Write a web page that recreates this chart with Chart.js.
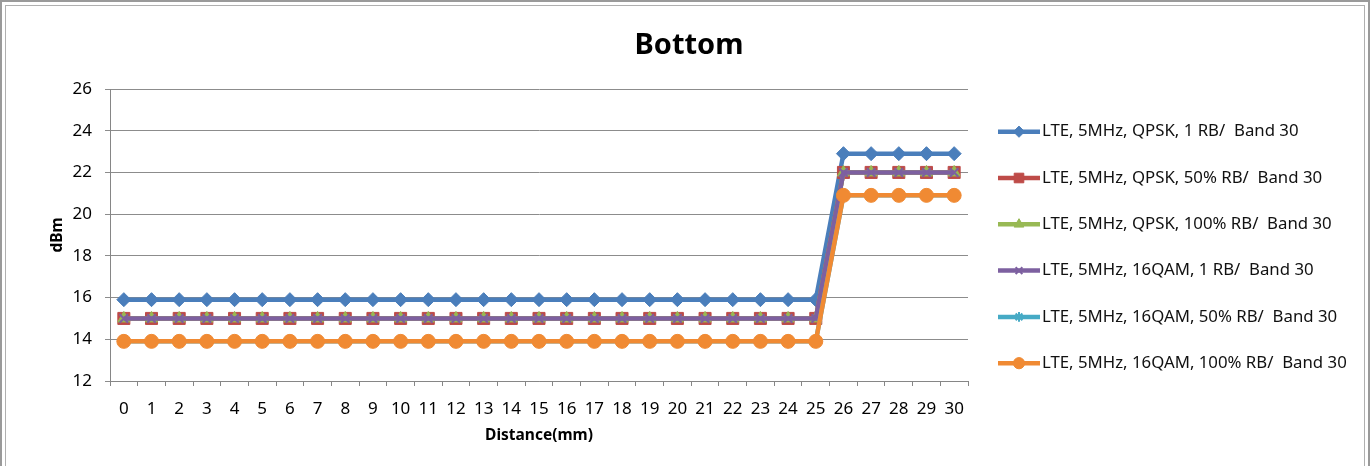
<!DOCTYPE html>
<html>
<head>
<meta charset="utf-8">
<script src="https://cdn.jsdelivr.net/npm/chart.js@4/dist/chart.umd.min.js"></script>
<style>
  html, body { margin: 0; padding: 0; background: #fff; }
  #wrap { position: relative; width: 1372px; height: 466px; overflow: hidden; }
  canvas { position: absolute; left: 0; top: 0; }
  .f1 { position: absolute; left: 0; top: 0; width: 1366px; height: 480px; border: 2px solid #9a9a9a; border-bottom: none; pointer-events: none; }
  .f2 { position: absolute; left: 5px; top: 5px; width: 1358px; height: 480px; border: 1px solid #b0b0b0; border-bottom: none; pointer-events: none; }
</style>
</head>
<body>
<div id="wrap">
  <canvas id="c" width="1372" height="466"></canvas>
  <div class="f1"></div>
  <div class="f2"></div>
</div>
<script>
// ---- data ----
const chartTitle = 'Bottom';
const categories = ['0','1','2','3','4','5','6','7','8','9','10','11','12','13','14','15','16','17','18','19','20','21','22','23','24','25','26','27','28','29','30'];
const seriesNames = [
  'LTE, 5MHz, QPSK, 1 RB/  Band 30',
  'LTE, 5MHz, QPSK, 50% RB/  Band 30',
  'LTE, 5MHz, QPSK, 100% RB/  Band 30',
  'LTE, 5MHz, 16QAM, 1 RB/  Band 30',
  'LTE, 5MHz, 16QAM, 50% RB/  Band 30',
  'LTE, 5MHz, 16QAM, 100% RB/  Band 30'
];
const qpsk1RB    = [15.9,15.9,15.9,15.9,15.9,15.9,15.9,15.9,15.9,15.9,15.9,15.9,15.9,15.9,15.9,15.9,15.9,15.9,15.9,15.9,15.9,15.9,15.9,15.9,15.9,15.9,22.9,22.9,22.9,22.9,22.9];
const qpsk50RB   = [15,15,15,15,15,15,15,15,15,15,15,15,15,15,15,15,15,15,15,15,15,15,15,15,15,15,22,22,22,22,22];
const qpsk100RB  = [15,15,15,15,15,15,15,15,15,15,15,15,15,15,15,15,15,15,15,15,15,15,15,15,15,15,22,22,22,22,22];
const qam1RB     = [15,15,15,15,15,15,15,15,15,15,15,15,15,15,15,15,15,15,15,15,15,15,15,15,15,15,22,22,22,22,22];
const qam50RB    = [13.9,13.9,13.9,13.9,13.9,13.9,13.9,13.9,13.9,13.9,13.9,13.9,13.9,13.9,13.9,13.9,13.9,13.9,13.9,13.9,13.9,13.9,13.9,13.9,13.9,13.9,20.9,20.9,20.9,20.9,20.9];
const qam100RB   = [13.9,13.9,13.9,13.9,13.9,13.9,13.9,13.9,13.9,13.9,13.9,13.9,13.9,13.9,13.9,13.9,13.9,13.9,13.9,13.9,13.9,13.9,13.9,13.9,13.9,13.9,20.9,20.9,20.9,20.9,20.9];
const yTicks = [12,14,16,18,20,22,24,26];

// ---- styles ----
const seriesValues = [qpsk1RB, qpsk50RB, qpsk100RB, qam1RB, qam50RB, qam100RB];
const colors = ['#4A7EBB','#BE4B48','#98B954','#7D60A0','#46AAC5','#F08A33'];
const pStyles = ['rectRot','rect','triangle','crossRot','star','circle'];
const pRadius = [7, 8.5, 7, 6, 6, 7];
const pBorder = [1, 1, 1, 2, 2, 1];

const datasets = seriesValues.map((vals, i) => ({
  label: seriesNames[i],
  data: vals,
  borderColor: colors[i],
  backgroundColor: colors[i],
  borderWidth: 4.5,
  tension: 0,
  pointStyle: pStyles[i],
  pointRadius: pRadius[i],
  pointHoverRadius: pRadius[i],
  pointBorderWidth: pBorder[i],
  pointBackgroundColor: colors[i],
  pointBorderColor: colors[i],
  order: seriesValues.length - i
}));

const FONT = "'Noto Sans', 'DejaVu Sans', sans-serif";

const legendPlugin = {
  id: 'sideLegend',
  afterDraw(chart) {
    const ctx = chart.ctx;
    ctx.save();
    // chart title centred on the whole picture
    ctx.fillStyle = '#000';
    ctx.font = 'bold 29px ' + FONT;
    ctx.textAlign = 'center';
    ctx.textBaseline = 'middle';
    ctx.fillText(chartTitle, 689, 46);
    chart.data.datasets.forEach((ds, i) => {
      const y = 131.7 + i * 46.3;
      ctx.strokeStyle = ds.borderColor;
      ctx.lineWidth = 4.5;
      ctx.beginPath();
      ctx.moveTo(998, y);
      ctx.lineTo(1040, y);
      ctx.stroke();
      ctx.fillStyle = ds.backgroundColor;
      ctx.strokeStyle = ds.borderColor;
      ctx.lineWidth = ds.pointBorderWidth;
      Chart.helpers.drawPoint(ctx, {pointStyle: ds.pointStyle, radius: ds.pointRadius * 0.8, rotation: 0, borderWidth: ds.pointBorderWidth}, 1019, y);
      ctx.fillStyle = '#111';
      ctx.font = '16.8px ' + FONT;
      ctx.textBaseline = 'middle';
      ctx.textAlign = 'left';
      ctx.fillText(ds.label, 1042, y);
    });
    ctx.restore();
  }
};

const bgPlugin = {
  id: 'bg',
  beforeDraw(chart) {
    const ctx = chart.ctx;
    ctx.save();
    ctx.fillStyle = '#fff';
    ctx.fillRect(0, 0, chart.width, chart.height);
    ctx.restore();
  }
};

new Chart(document.getElementById('c'), {
  type: 'line',
  data: { labels: categories, datasets },
  plugins: [bgPlugin, legendPlugin],
  options: {
    responsive: false,
    animation: false,
    events: [],
    layout: { padding: { left: 0, top: 89, right: 404, bottom: 0 } },
    plugins: {
      legend: { display: false },
      tooltip: { enabled: false },
      title: { display: false }
    },
    scales: {
      x: {
        offset: true,
        grid: { display: true, drawOnChartArea: false, drawTicks: true, tickLength: 5, offset: true, color: '#868686' },
        border: { color: '#868686', width: 1 },
        ticks: { color: '#000', font: { family: FONT, size: 17 }, padding: 13, maxRotation: 0, autoSkip: false },
        title: { display: true, text: 'Distance(mm)', color: '#000', font: { family: FONT, size: 15.5, weight: 'bold', lineHeight: 1.2 }, padding: { top: 0, bottom: 21 } },
        afterFit(scale) { scale.height = 85; }
      },
      y: {
        min: 12, max: 26,
        afterBuildTicks(scale) { scale.ticks = yTicks.map(v => ({ value: v })); },
        grid: { display: true, drawOnChartArea: true, drawTicks: true, tickLength: 5, color: '#8c8c8c' },
        border: { color: '#868686', width: 1 },
        ticks: { color: '#000', font: { family: FONT, size: 17 }, padding: 13 },
        title: { display: true, text: 'dBm', color: '#000', font: { family: FONT, size: 15.5, weight: 'bold', lineHeight: 1.2 }, padding: { top: 48, bottom: 0 } },
        afterFit(scale) { scale.width = 110; }
      }
    }
  }
});
</script>
</body>
</html>
